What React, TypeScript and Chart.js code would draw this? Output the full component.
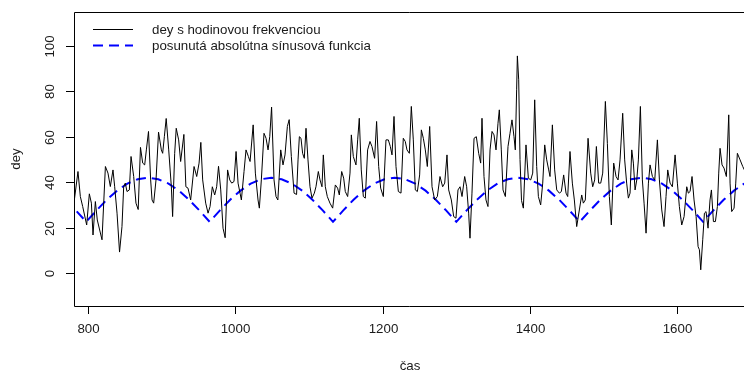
import React, { useEffect, useRef } from "react";
import { Chart, registerables } from "chart.js";

Chart.register(...registerables);

// hodinové merania (čas v hodinách) a hodnoty dey v lokálnych extrémoch
const cas: number[] = [
  781.4, 786.8, 790, 793.2, 798.6, 802.2, 805, 807.2, 810.4, 813, 819.4, 824, 827.5, 830.7, 834.3, 836.6,
  839.8, 843.2, 846.5, 848.8, 851, 853.3, 856.5, 858.8, 862.4, 865.5, 868.5, 871.6, 874.6, 877.3, 879.6,
  882.5, 885.4, 887.3, 889.5, 892.7, 896.1, 899.9, 901.7, 904, 906.5, 909.9, 913.5, 915.2, 918, 920.1,
  923.4, 926.1, 930.5, 933.2, 936.1, 939.7, 944.3, 947.9, 951.1, 953.5, 956, 960.1, 963.3, 966, 969.1,
  972.3, 975, 977.5, 980.5, 983.6, 986.5, 989.8, 992.7, 995.4, 998.5, 1001.3, 1004, 1006.7, 1008.5,
  1012.1, 1014.8, 1018, 1020.3, 1024.5, 1027.5, 1031.1, 1032.9, 1035.6, 1039.2, 1042, 1044.7, 1047,
  1049.5, 1052.8, 1055.5, 1058, 1061.9, 1065, 1067.7, 1070.9, 1073.4, 1076.3, 1080, 1083.4, 1085.4,
  1087.2, 1089.4, 1091.6, 1093.9, 1096.2, 1098.9, 1101.6, 1104.3, 1107.5, 1109.7, 1112.9, 1115.2,
  1117.9, 1119.7, 1122.4, 1125.1, 1128.7, 1132.4, 1136, 1139.1, 1141.4, 1144.6, 1147.3, 1149.5, 1152.7,
  1155.9, 1157.7, 1160.4, 1164, 1166.3, 1168.5, 1171.2, 1174, 1176.7, 1179.8, 1183, 1185.7, 1189.3,
  1192, 1194.8, 1197.5, 1201.1, 1204.7, 1207.9, 1210.6, 1212.9, 1215.6, 1218.3, 1221.5, 1225.1, 1228.2,
  1230.9, 1233.2, 1236.4, 1239.1, 1241.8, 1244.5, 1247.3, 1250.4, 1252.7, 1255.4, 1258.1, 1260.8, 1264,
  1267.2, 1270.8, 1274.4, 1278, 1281.6, 1284.4, 1287.5, 1289.8, 1293.4, 1296.6, 1299.7, 1302.4, 1305.2,
  1307.9, 1311.5, 1314.2, 1316.9, 1318.7, 1321.4, 1324.2, 1327.3, 1330.5, 1333.2, 1335, 1337.7, 1340.4,
  1343.1, 1345.9, 1348.6, 1351.3, 1354, 1356.7, 1358.5, 1361.2, 1363.5, 1366.7, 1370.3, 1373, 1375.7,
  1378.4, 1380.2, 1382, 1383, 1384.8, 1386.6, 1388.6, 1391.1, 1394.7, 1397.9, 1401.1, 1403.8, 1406.5,
  1409.2, 1411.5, 1414.6, 1417.4, 1420.1, 1422.8, 1425.5, 1427.3, 1430.5, 1433.6, 1436.4, 1440, 1442.7,
  1445.8, 1449, 1451.3, 1454.4, 1457.6, 1460.3, 1463.5, 1467.1, 1470.3, 1472.5, 1475.2, 1478.9, 1482.5,
  1485.2, 1487.9, 1490.2, 1493.3, 1496.1, 1498.8, 1502.4, 1505.1, 1507.8, 1510.5, 1513.7, 1516.9,
  1519.6, 1522.3, 1525.9, 1528.6, 1531.3, 1533.6, 1535.9, 1538.2, 1540.4, 1542.7, 1545, 1547.2, 1549.9,
  1552.6, 1554.9, 1557.6, 1560.8, 1563, 1566.2, 1569.4, 1573, 1575.7, 1578.9, 1582, 1584.7, 1587,
  1590.2, 1593.3, 1597, 1600.1, 1602.8, 1606, 1609.2, 1612.8, 1615, 1617.3, 1620, 1622.7, 1625.5,
  1628.2, 1630, 1631.8, 1634.5, 1636.8, 1639, 1641.7, 1644.4, 1646.3, 1649, 1651.7, 1654.4, 1656.2,
  1658, 1660.7, 1663.4, 1666.6, 1669.8, 1671.6, 1673.8, 1677, 1679.3, 1681.5, 1685.2, 1688.8, 1691,
];

const dey: number[] = [
  31, 44.7, 33.7, 29.3, 21.2, 34.9, 30.8, 16.8, 31.5, 23.4, 14.7, 46.9, 44, 38.1, 45.4, 38,
  26.4, 9.3, 20.5, 38, 39.6, 35.9, 36.6, 51.3, 42.5, 30.8, 28, 55.3, 48.4, 47.6, 54.2,
  62.3, 41, 32.2, 30.8, 41, 62, 54.2, 52.7, 60, 68, 54.2, 38, 24.9, 52.7, 63.7,
  58.6, 49.1, 61, 38, 37.4, 32.2, 46.9, 42.5, 48.4, 57.5, 41, 30.8, 26.4, 29.3, 38,
  34.4, 38, 47, 36.6, 19.8, 15.6, 45.4, 41, 39.6, 40.3, 53.5, 39.6, 35.2, 32.2,
  44.7, 54.2, 51.3, 49.1, 65.2, 44, 32.2, 28.6, 41, 61.5, 59.3, 54.2, 60,
  73, 41, 33.7, 32.2, 54.2, 47.6, 52, 64.5, 67.5, 51.3, 35.2, 34.6, 49.8,
  60, 59.3, 52.7, 50.5, 63.7, 49.8, 38, 33, 35.2, 38, 44.7, 41,
  38, 52, 38, 33.7, 30.8, 28.6, 38.8, 37.4, 34.4, 44.7, 41.8, 35.9, 33.7,
  44, 60.8, 51.3, 47.6, 58.6, 68.1, 45.4, 33.7, 33, 54.2, 57.9, 55.7, 50.5,
  66.7, 46.9, 37.4, 33.7, 58.6, 58.6, 55.7, 52, 68.9, 46.9, 35.9, 35.2, 59.3,
  57.9, 54.2, 52.7, 73.3, 58.6, 36.6, 35.9, 43.2, 63, 59.3, 54.2, 46.9, 64.5,
  38, 32.2, 33.7, 42.5, 38, 39.6, 52, 36.6, 32.2, 24.9, 24.2, 36.6, 38,
  33.7, 42.5, 38, 26.4, 15.4, 35.2, 59.3, 60, 52.7, 48.4, 68.1, 42.5, 32.2,
  29.3, 54.2, 62.3, 60.8, 54.2, 65.9, 71.8, 54.2, 36.6, 33.7, 55.7, 61.5, 67.4,
  60, 54.2, 80.6, 95.5, 85, 50, 32, 28.6, 56.4, 41.8, 41, 44, 76.2,
  46.9, 33.7, 30, 39.6, 56.4, 49.8, 45.4, 42.5, 65.2, 45.4, 36.6, 35.2, 35.9,
  43.2, 35.2, 33.7, 53.5, 39.6, 32.2, 20.5, 27.8, 34.4, 30.8, 32.2, 59.3, 44,
  38, 41, 55.7, 39.6, 39.6, 44, 75.5, 57.1, 33.7, 21.2, 48.4, 42.5,
  41, 49.8, 70.3, 49.8, 39.6, 33, 35.2, 54.2, 48.4, 36.6, 41, 49.8, 73.3,
  41, 30.8, 17.6, 39.6, 47.6, 42.5, 41, 58.6, 41, 27.8, 20.5, 33.7, 45.4,
  39.6, 38, 52, 39.6, 29.3, 21.2, 24.9, 38, 35.2, 35.9, 42.5, 32.2, 24.9,
  11.7, 10.3, 1.5, 14.7, 26.4, 27.1, 19.8, 32.2, 36.6, 22.7, 22.7, 29.3, 44,
  54.9, 47.6, 46.2, 42.5, 69.6, 39.6, 27.1, 28.6, 39.6, 52.7, 49.8, 46.9, 45.4,
];

// posunutá absolútna sínusová funkcia (týždenná perióda)
const casSin: number[] = [
  770.1, 784.0,
  798.0, 812.0, 825.9, 839.9, 853.8, 867.8, 881.7, 895.7, 909.6, 923.6, 937.5, 951.5,
  965.4, 979.4, 993.3, 1007.3, 1021.2, 1035.2, 1049.1, 1063.1, 1077.0, 1091.0, 1104.9, 1118.9,
  1132.8, 1146.8, 1160.7, 1174.7, 1188.6, 1202.6, 1216.5, 1230.5, 1244.4, 1258.4, 1272.3, 1286.3,
  1300.2, 1314.2, 1328.1, 1342.1, 1356.0, 1370.0, 1383.9, 1397.9, 1411.8, 1425.8, 1439.7, 1453.7,
  1467.6, 1481.6, 1495.5, 1509.5, 1523.4, 1537.4, 1551.3, 1565.3, 1579.2, 1593.2, 1607.1, 1621.1,
  1635.0, 1649.0, 1662.9, 1676.9, 1690.8,
];

const sinHodnoty: number[] = [
  32.3, 27.6,
  22.6, 27.6, 32.3, 36.3, 39.4, 41.3, 42.0, 41.3, 39.4, 36.3, 32.3, 27.6,
  22.6, 27.6, 32.3, 36.3, 39.4, 41.3, 42.0, 41.3, 39.4, 36.3, 32.3, 27.6,
  22.6, 27.6, 32.3, 36.3, 39.4, 41.3, 42.0, 41.3, 39.4, 36.3, 32.3, 27.6,
  22.6, 27.6, 32.3, 36.3, 39.4, 41.3, 42.0, 41.3, 39.4, 36.3, 32.3, 27.6,
  22.6, 27.6, 32.3, 36.3, 39.4, 41.3, 42.0, 41.3, 39.4, 36.3, 32.3, 27.6,
  22.6, 27.6, 32.3, 36.3, 39.4,
];

const xTicks: number[] = [800, 1000, 1200, 1400, 1600];
const yTicks: number[] = [0, 20, 40, 60, 80, 100];

const legendLabels: string[] = ["dey s hodinovou frekvenciou", "posunutá absolútna sínusová funkcia"];
const xTitle = "čas";
const yTitle = "dey";

const FONT = "13.3px 'Liberation Sans', Arial, Helvetica, sans-serif";

// R-style axes, box, titles and legend drawn on top of the plot
const baseAxesPlugin = {
  id: "baseAxes",
  afterDraw(chart: any) {
    const { ctx, chartArea, scales } = chart;
    const { left, top, right, bottom } = chartArea;
    const xs = scales.x;
    const ys = scales.y;
    ctx.save();
    ctx.strokeStyle = "#000";
    ctx.fillStyle = "#1a1a1a";
    ctx.lineWidth = 1;

    // box
    ctx.beginPath();
    ctx.moveTo(right + 2, top + 0.5);
    ctx.lineTo(left + 0.5, top + 0.5);
    ctx.lineTo(left + 0.5, bottom + 0.5);
    ctx.lineTo(right + 2, bottom + 0.5);
    ctx.stroke();

    ctx.font = FONT;

    // x axis ticks
    ctx.textAlign = "center";
    ctx.textBaseline = "middle";
    for (const v of xTicks) {
      const px = Math.round(xs.getPixelForValue(v)) + 0.5;
      ctx.beginPath();
      ctx.moveTo(px, bottom);
      ctx.lineTo(px, bottom + 8);
      ctx.stroke();
      ctx.fillText(String(v), px, bottom + 23);
    }

    // y axis ticks (rotated labels)
    for (const v of yTicks) {
      const py = Math.round(ys.getPixelForValue(v)) + 0.5;
      ctx.beginPath();
      ctx.moveTo(left, py);
      ctx.lineTo(left - 8, py);
      ctx.stroke();
      ctx.save();
      ctx.translate(left - 24, py);
      ctx.rotate(-Math.PI / 2);
      ctx.fillText(String(v), 0, 0);
      ctx.restore();
    }

    // axis titles
    ctx.fillText(xTitle, 410, bottom + 60);
    ctx.save();
    ctx.translate(16, (top + bottom) / 2);
    ctx.rotate(-Math.PI / 2);
    ctx.fillText(yTitle, 0, 0);
    ctx.restore();

    // legend
    const lx0 = 93;
    const lx1 = 133;
    const ly = [29.5, 45.5];
    ctx.beginPath();
    ctx.moveTo(lx0, ly[0]);
    ctx.lineTo(lx1, ly[0]);
    ctx.stroke();
    ctx.strokeStyle = "#0000ff";
    ctx.lineWidth = 2;
    ctx.setLineDash([10, 6]);
    ctx.beginPath();
    ctx.moveTo(lx0, ly[1]);
    ctx.lineTo(lx1, ly[1]);
    ctx.stroke();
    ctx.setLineDash([]);
    ctx.textAlign = "left";
    ctx.fillText(legendLabels[0], 152, ly[0] + 1);
    ctx.fillText(legendLabels[1], 152, ly[1] + 1);
    ctx.restore();
  },
};

export default function App() {
  const canvasRef = useRef<HTMLCanvasElement | null>(null);

  useEffect(() => {
    if (!canvasRef.current) return;
    const chart = new Chart(canvasRef.current, {
      type: "line",
      data: {
        datasets: [
          {
            label: legendLabels[0],
            data: cas.map((x, i) => ({ x, y: dey[i] })),
            borderColor: "#000000",
            borderWidth: 1,
            pointRadius: 0,
            tension: 0,
            fill: false,
          },
          {
            label: legendLabels[1],
            data: casSin.map((x, i) => ({ x, y: sinHodnoty[i] })),
            borderColor: "#0000ff",
            borderWidth: 2,
            borderDash: [10, 6],
            pointRadius: 0,
            tension: 0,
            fill: false,
          },
        ],
      },
      options: {
        animation: false,
        responsive: false,
        devicePixelRatio: 1,
        layout: { padding: { left: 74, top: 12, right: 0, bottom: 66 } },
        plugins: { legend: { display: false }, tooltip: { enabled: false } },
        scales: {
          x: { type: "linear", min: 781.4, max: 1690.5, display: false },
          y: { type: "linear", min: -14.4, max: 114.8, display: false },
        },
      },
      plugins: [baseAxesPlugin],
    });
    return () => chart.destroy();
  }, []);

  return (
    <div style={{ position: "absolute", left: 0, top: 0, width: 744, height: 372, background: "#fff" }}>
      <canvas ref={canvasRef} width={744} height={372} />
    </div>
  );
}
